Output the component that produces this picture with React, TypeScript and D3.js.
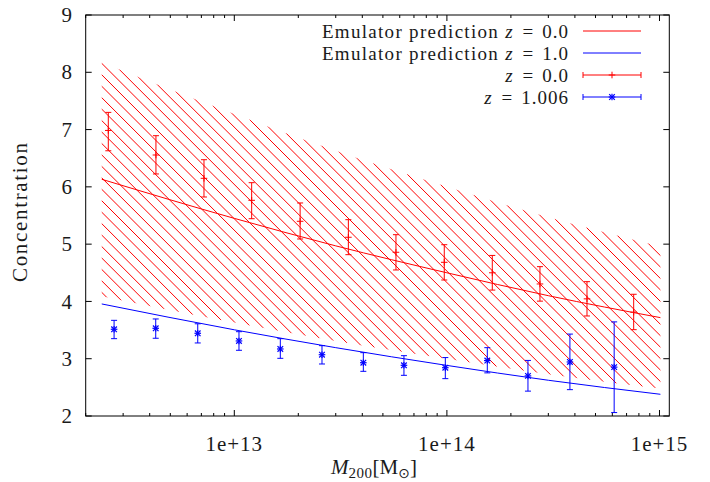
import React from 'react';
import * as d3 from 'd3';

const W = 710;
const H = 482;

// Axis setup
const xDomain = [2e12, 1.112e15];
const yDomain = [2, 9];
const yTickValues = [2, 3, 4, 5, 6, 7, 8, 9];
const xMajorTicks = [1e13, 1e14, 1e15];
const xTickLabels = ['1e+13', '1e+14', '1e+15'];

// Emulator predictions
const emuMass = [2.38e12, 1e13, 3e13, 1e14, 3e14, 1.01e15];
const emuZ0 = [6.132, 5.45, 4.97, 4.5, 4.1, 3.717];
const emuZ1 = [3.956, 3.505, 3.193, 2.883, 2.624, 2.379];
const bandUpper = [8.17, 7.27, 6.63, 6.0, 5.47, 4.96];
const bandLower = [4.09, 3.63, 3.31, 3.0, 2.73, 2.48];

// z = 0.0 measurements
const redMass = [2.555e12, 4.28e12, 7.2e12, 1.207e13, 2.04e13, 3.44e13, 5.76e13, 9.72e13, 1.635e14, 2.74e14, 4.56e14, 7.56e14];
const redC = [6.985, 6.556, 6.149, 5.765, 5.399, 5.12, 4.858, 4.683, 4.5, 4.305, 4.045, 3.813];
const redLo = [6.63, 6.225, 5.823, 5.444, 5.09, 4.816, 4.549, 4.374, 4.198, 4.005, 3.746, 3.507];
const redHi = [7.3, 6.893, 6.474, 6.073, 5.719, 5.427, 5.165, 4.99, 4.803, 4.607, 4.345, 4.125];

// z = 1.006 measurements
const blueMass = [2.72e12, 4.27e12, 6.73e12, 1.052e13, 1.646e13, 2.585e13, 4.045e13, 6.28e13, 9.83e13, 1.549e14, 2.406e14, 3.79e14, 6.12e14];
const blueC = [3.514, 3.531, 3.444, 3.31, 3.17, 3.07, 2.93, 2.885, 2.843, 2.968, 2.7, 2.943, 2.853];
const blueLo = [3.35, 3.357, 3.275, 3.147, 3.007, 2.908, 2.78, 2.71, 2.652, 2.753, 2.434, 2.46, 2.06];
const blueHi = [3.67, 3.694, 3.61, 3.472, 3.35, 3.228, 3.106, 3.053, 3.02, 3.193, 2.97, 3.43, 3.643];

const legendLabels = ['Emulator prediction', 'Emulator prediction', '', ''];
const legendZ = ['0.0', '1.0', '0.0', '1.006'];

const RED = '#ff0000';
const BLUE = '#0000ff';
const FONT = '"Liberation Serif", "Times New Roman", serif';
const TEXT = '#1a1a1a';

const L = 85.7, R = 669.3, T = 15, B = 416;

export default function App() {
  const x = d3.scaleLog().domain(xDomain).range([L, R]);
  const y = d3.scaleLinear().domain(yDomain).range([B, T]);

  const minorTicks: number[] = [];
  for (let e = 12; e <= 15; e++) {
    for (let k = 1; k <= 9; k++) {
      const v = k * Math.pow(10, e);
      if (v >= xDomain[0] && v <= xDomain[1] && !xMajorTicks.includes(v)) minorTicks.push(v);
    }
  }

  const idx = d3.range(emuMass.length);
  const lineGen = (vals: number[]) =>
    d3.line<number>().x(i => x(emuMass[i])).y(i => y(vals[i])).curve(d3.curveMonotoneX)(idx) || '';
  const bandPath =
    d3.area<number>().x(i => x(emuMass[i])).y0(i => y(bandLower[i])).y1(i => y(bandUpper[i])).curve(d3.curveMonotoneX)(idx) || '';

  // hatch lines at 45 degrees: y - x = c
  const spacing = 11.45;
  const c0 = -38.4;
  const hatch: number[] = [];
  for (let c = c0 - spacing * 60; c < 420; c += spacing) hatch.push(c);

  const cap = 3;
  const renderBars = (mass: number[], lo: number[], hi: number[], color: string) =>
    mass.map((m, i) => {
      const cx = x(m);
      return (
        <g key={i} stroke={color} strokeWidth={1} fill="none">
          <line x1={cx} x2={cx} y1={y(lo[i])} y2={y(hi[i])} />
          <line x1={cx - cap} x2={cx + cap} y1={y(lo[i])} y2={y(lo[i])} />
          <line x1={cx - cap} x2={cx + cap} y1={y(hi[i])} y2={y(hi[i])} />
        </g>
      );
    });
  const plus = (cx: number, cy: number, color: string, key?: any) => (
    <g key={key} stroke={color} strokeWidth={1}>
      <line x1={cx - 3.3} x2={cx + 3.3} y1={cy} y2={cy} />
      <line x1={cx} x2={cx} y1={cy - 3.3} y2={cy + 3.3} />
    </g>
  );
  const star = (cx: number, cy: number, color: string, key?: any) => (
    <g key={key} stroke={color} strokeWidth={1.2}>
      <line x1={cx - 3.3} x2={cx + 3.3} y1={cy} y2={cy} />
      <line x1={cx} x2={cx} y1={cy - 3.3} y2={cy + 3.3} />
      <line x1={cx - 2.8} x2={cx + 2.8} y1={cy - 2.8} y2={cy + 2.8} />
      <line x1={cx - 2.8} x2={cx + 2.8} y1={cy + 2.8} y2={cy - 2.8} />
    </g>
  );

  const legendRowsY = [31, 53, 75, 97];
  const lx1 = 583, lx2 = 641, lTextX = 569;

  return (
    <svg width={W} height={H} style={{ position: 'fixed', left: 0, top: 0, background: '#fff' }} fontFamily={FONT}>
      <rect width={W} height={H} fill="#fff" />
      <defs>
        <clipPath id="bandClip">
          <path d={bandPath} />
        </clipPath>
      </defs>

      {/* hatch band */}
      <g clipPath="url(#bandClip)" stroke={RED} strokeWidth={1}>
        {hatch.map((c, i) => (
          <line key={i} x1={L} y1={L + c} x2={R} y2={R + c} />
        ))}
      </g>

      {/* emulator lines */}
      <path d={lineGen(emuZ0)} fill="none" stroke={RED} strokeWidth={1} />
      <path d={lineGen(emuZ1)} fill="none" stroke={BLUE} strokeWidth={1} />

      {/* data */}
      {renderBars(redMass, redLo, redHi, RED)}
      {redMass.map((m, i) => plus(x(m), y(redC[i]), RED, 'p' + i))}
      {renderBars(blueMass, blueLo, blueHi, BLUE)}
      {blueMass.map((m, i) => star(x(m), y(blueC[i]), BLUE, 's' + i))}

      {/* frame & ticks */}
      <g stroke="#000" strokeWidth={1} fill="none">
        <rect x={L} y={T} width={R - L} height={B - T} />
        {yTickValues.map(v => (
          <g key={v}>
            <line x1={L} x2={L + 6} y1={y(v)} y2={y(v)} />
            <line x1={R} x2={R - 6} y1={y(v)} y2={y(v)} />
          </g>
        ))}
        {xMajorTicks.map(v => (
          <g key={v}>
            <line x1={x(v)} x2={x(v)} y1={B} y2={B - 6} />
            <line x1={x(v)} x2={x(v)} y1={T} y2={T + 6} />
          </g>
        ))}
        {minorTicks.map(v => (
          <g key={v}>
            <line x1={x(v)} x2={x(v)} y1={B} y2={B - 3} />
            <line x1={x(v)} x2={x(v)} y1={T} y2={T + 3} />
          </g>
        ))}
      </g>

      {/* tick labels */}
      <g fill={TEXT} fontSize={21}>
        {yTickValues.map(v => (
          <text key={v} x={72} y={y(v)} dy="0.34em" textAnchor="end">{v}</text>
        ))}
        {xMajorTicks.map((v, i) => (
          <text key={v} x={x(v)} y={451} textAnchor="middle" letterSpacing={1}>{xTickLabels[i]}</text>
        ))}
      </g>

      {/* axis labels */}
      <text fill={TEXT} fontSize={21} transform="translate(27,212.5) rotate(-90)" textAnchor="middle"
        textLength={139} lengthAdjust="spacing">Concentration</text>
      <text fill={TEXT} fontSize={21} x={374} y={474} textAnchor="middle">
        <tspan fontStyle="italic">M</tspan>
        <tspan fontSize={15} dy={4} letterSpacing={0.5}>200</tspan>
        <tspan dy={-4}>[M</tspan>
        <tspan fontSize={14} dy={4} fontFamily='"DejaVu Sans", sans-serif'>⊙</tspan>
        <tspan dy={-4}>]</tspan>
      </text>

      {/* legend */}
      <g fill={TEXT} fontSize={19}>
        {legendRowsY.map((ly, i) => (
          <text key={i} x={lTextX} y={ly} dy="0.35em" textAnchor="end">
            {legendLabels[i] ? <tspan letterSpacing={1.3}>{legendLabels[i]}</tspan> : null}<tspan dx={legendLabels[i] ? 6 : 0} fontStyle="italic">z</tspan><tspan dx={10}>=</tspan><tspan dx={9} letterSpacing={1}>{legendZ[i]}</tspan>
          </text>
        ))}
      </g>
      <line x1={lx1} x2={lx2} y1={legendRowsY[0]} y2={legendRowsY[0]} stroke={RED} strokeWidth={1} />
      <line x1={lx1} x2={lx2} y1={legendRowsY[1]} y2={legendRowsY[1]} stroke={BLUE} strokeWidth={1} />
      {[2, 3].map(r => {
        const col = r === 2 ? RED : BLUE;
        const ly = legendRowsY[r];
        return (
          <g key={r} stroke={col} strokeWidth={1}>
            <line x1={lx1} x2={lx2} y1={ly} y2={ly} />
            <line x1={lx1} x2={lx1} y1={ly - 3} y2={ly + 3} />
            <line x1={lx2} x2={lx2} y1={ly - 3} y2={ly + 3} />
          </g>
        );
      })}
      {plus((lx1 + lx2) / 2, legendRowsY[2], RED, 'lp')}
      {star((lx1 + lx2) / 2, legendRowsY[3], BLUE, 'ls')}
    </svg>
  );
}
